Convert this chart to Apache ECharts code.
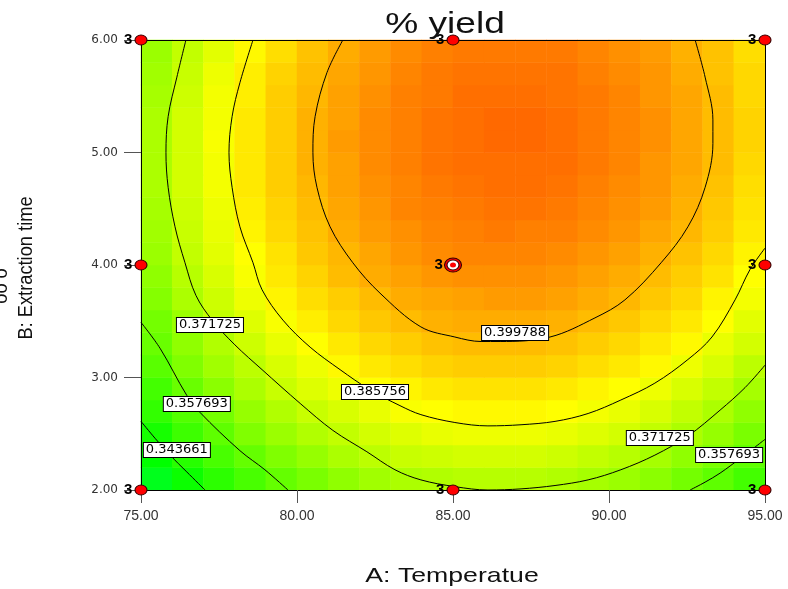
<!DOCTYPE html>
<html>
<head>
<meta charset="utf-8">
<title>% yield</title>
<script src="https://cdn.jsdelivr.net/npm/echarts@6/dist/echarts.min.js"></script>
<style>
html, body { margin: 0; padding: 0; background: #fff; }
#chart { width: 788px; height: 589px; }
</style>
</head>
<body>
<div id="chart"></div>
<script>
// colour map cells: centre of each cell, A = temperature, B = extraction time
const gridA = [75.5, 76.5, 77.5, 78.5, 79.5, 80.5, 81.5, 82.5, 83.5, 84.5, 85.5, 86.5, 87.5, 88.5, 89.5, 90.5, 91.5, 92.5, 93.5, 94.5];
const gridB = [2.1, 2.3, 2.5, 2.7, 2.9, 3.1, 3.3, 3.5, 3.7, 3.9, 4.1, 4.3, 4.5, 4.7, 4.9, 5.1, 5.3, 5.5, 5.7, 5.9];

// % yield, one row per B value (bottom row first)
const yieldGrid = [
  [0.335, 0.342, 0.348, 0.353, 0.358, 0.362, 0.366, 0.369, 0.371, 0.372, 0.373, 0.373, 0.373, 0.372, 0.370, 0.368, 0.365, 0.361, 0.357, 0.352],
  [0.340, 0.347, 0.353, 0.358, 0.363, 0.367, 0.371, 0.374, 0.376, 0.377, 0.378, 0.378, 0.378, 0.377, 0.375, 0.373, 0.370, 0.366, 0.362, 0.357],
  [0.344, 0.351, 0.357, 0.363, 0.368, 0.372, 0.375, 0.378, 0.380, 0.382, 0.383, 0.383, 0.383, 0.382, 0.380, 0.378, 0.375, 0.371, 0.367, 0.362],
  [0.349, 0.355, 0.361, 0.367, 0.372, 0.376, 0.379, 0.382, 0.385, 0.386, 0.387, 0.387, 0.387, 0.386, 0.384, 0.382, 0.379, 0.375, 0.371, 0.366],
  [0.352, 0.359, 0.365, 0.371, 0.376, 0.380, 0.383, 0.386, 0.388, 0.390, 0.391, 0.391, 0.391, 0.390, 0.388, 0.386, 0.383, 0.379, 0.375, 0.370],
  [0.356, 0.363, 0.369, 0.374, 0.379, 0.383, 0.387, 0.390, 0.392, 0.394, 0.395, 0.395, 0.395, 0.394, 0.392, 0.390, 0.387, 0.383, 0.379, 0.374],
  [0.359, 0.366, 0.372, 0.377, 0.382, 0.386, 0.390, 0.393, 0.395, 0.397, 0.398, 0.398, 0.398, 0.397, 0.395, 0.393, 0.390, 0.387, 0.382, 0.378],
  [0.361, 0.368, 0.375, 0.380, 0.385, 0.389, 0.393, 0.396, 0.398, 0.400, 0.401, 0.401, 0.401, 0.400, 0.398, 0.396, 0.393, 0.390, 0.386, 0.381],
  [0.364, 0.371, 0.377, 0.383, 0.388, 0.392, 0.395, 0.398, 0.401, 0.402, 0.403, 0.404, 0.404, 0.403, 0.401, 0.399, 0.396, 0.393, 0.388, 0.384],
  [0.366, 0.373, 0.379, 0.385, 0.390, 0.394, 0.398, 0.401, 0.403, 0.405, 0.406, 0.406, 0.406, 0.405, 0.403, 0.401, 0.398, 0.395, 0.391, 0.386],
  [0.368, 0.375, 0.381, 0.386, 0.391, 0.396, 0.399, 0.402, 0.405, 0.407, 0.408, 0.408, 0.408, 0.407, 0.405, 0.403, 0.400, 0.397, 0.393, 0.388],
  [0.369, 0.376, 0.382, 0.388, 0.393, 0.397, 0.401, 0.404, 0.406, 0.408, 0.409, 0.410, 0.409, 0.409, 0.407, 0.405, 0.402, 0.399, 0.395, 0.390],
  [0.370, 0.377, 0.383, 0.389, 0.394, 0.398, 0.402, 0.405, 0.408, 0.409, 0.410, 0.411, 0.411, 0.410, 0.408, 0.406, 0.404, 0.400, 0.396, 0.391],
  [0.371, 0.378, 0.384, 0.390, 0.395, 0.399, 0.403, 0.406, 0.408, 0.410, 0.411, 0.412, 0.412, 0.411, 0.409, 0.407, 0.405, 0.401, 0.397, 0.392],
  [0.371, 0.378, 0.384, 0.390, 0.395, 0.400, 0.403, 0.407, 0.409, 0.411, 0.412, 0.412, 0.412, 0.412, 0.410, 0.408, 0.405, 0.402, 0.398, 0.393],
  [0.371, 0.378, 0.385, 0.390, 0.395, 0.400, 0.404, 0.407, 0.409, 0.411, 0.412, 0.413, 0.413, 0.412, 0.410, 0.408, 0.406, 0.402, 0.398, 0.394],
  [0.371, 0.378, 0.384, 0.390, 0.395, 0.400, 0.403, 0.407, 0.409, 0.411, 0.412, 0.413, 0.413, 0.412, 0.410, 0.408, 0.406, 0.402, 0.398, 0.394],
  [0.370, 0.377, 0.384, 0.389, 0.395, 0.399, 0.403, 0.406, 0.409, 0.410, 0.412, 0.412, 0.412, 0.411, 0.410, 0.408, 0.405, 0.402, 0.398, 0.393],
  [0.369, 0.376, 0.383, 0.389, 0.394, 0.398, 0.402, 0.405, 0.408, 0.410, 0.411, 0.411, 0.411, 0.411, 0.409, 0.407, 0.405, 0.401, 0.397, 0.393],
  [0.368, 0.375, 0.381, 0.387, 0.392, 0.397, 0.401, 0.404, 0.407, 0.409, 0.410, 0.410, 0.410, 0.410, 0.408, 0.406, 0.404, 0.400, 0.397, 0.392]
];

// contour lines, [A, B] points
const contour399788 = [[81.47, 6.00], [80.96, 5.71], [80.58, 5.32], [80.51, 5.00], [80.64, 4.69], [81.06, 4.34], [81.79, 4.02], [82.66, 3.75], [83.97, 3.45], [85.06, 3.36], [85.90, 3.32], [86.51, 3.32], [88.11, 3.36], [89.55, 3.53], [90.51, 3.69], [91.67, 4.02], [92.53, 4.34], [93.08, 4.69], [93.33, 5.08], [93.33, 5.29], [93.08, 5.67], [92.76, 6.00]];
const contour385756 = [[78.59, 6.00], [78.17, 5.62], [77.92, 5.32], [77.82, 5.00], [77.92, 4.69], [78.17, 4.34], [78.59, 4.02], [78.88, 3.78], [79.55, 3.51], [80.42, 3.27], [81.38, 3.07], [82.34, 2.89], [83.30, 2.75], [83.97, 2.67], [85.06, 2.60], [86.12, 2.57], [87.18, 2.58], [88.27, 2.61], [89.33, 2.68], [90.38, 2.80], [91.47, 2.95], [92.53, 3.16], [93.30, 3.36], [94.04, 3.69], [94.52, 3.96], [95.00, 4.15]];
const contour371725 = [[76.44, 6.00], [76.15, 5.67], [75.87, 5.32], [75.80, 5.00], [75.87, 4.69], [76.09, 4.34], [76.41, 4.02], [76.76, 3.73], [77.28, 3.51], [78.01, 3.29], [78.88, 3.07], [80.10, 2.77], [81.15, 2.53], [82.24, 2.34], [83.14, 2.18], [83.97, 2.09], [85.06, 2.03], [86.12, 2.00], [87.18, 2.01], [88.27, 2.04], [89.33, 2.09], [90.38, 2.18], [91.47, 2.31], [92.53, 2.48], [93.56, 2.71], [94.36, 2.91], [95.00, 3.11]];
const contour357693a = [[75.00, 3.49], [75.61, 3.26], [76.47, 2.84], [76.89, 2.69], [78.17, 2.35], [78.97, 2.18], [79.71, 2.00]];
const contour357693b = [[92.60, 2.00], [93.08, 2.07], [93.56, 2.15], [94.20, 2.28], [95.00, 2.45]];
const contour343661 = [[75.00, 2.61], [75.45, 2.46], [75.93, 2.31], [76.47, 2.16], [77.05, 2.00]];

// where each contour value is written: [A, B, text]
const contourLabels = [
  [77.21, 3.467, '0.371725'],
  [76.79, 2.764, '0.357693'],
  [76.15, 2.356, '0.343661'],
  [82.50, 2.871, '0.385756'],
  [86.99, 3.396, '0.399788'],
  [91.63, 2.462, '0.371725'],
  [93.85, 2.311, '0.357693']
];

// design points [A, B, replicates]
const designPoints = [[75, 2, 3], [75, 4, 3], [75, 6, 3], [85, 2, 3], [85, 6, 3], [95, 2, 3], [95, 4, 3], [95, 6, 3]];
const centerPoint = [[85, 4, 3]];

const heatData = [];
yieldGrid.forEach((row, j) => {
  row.forEach((v, i) => heatData.push([i, j, v]));
});

const gridRect = { left: 141, top: 40, width: 624, height: 450 };
const labelFont = '"Liberation Sans", Arial, sans-serif';

function contourLine(pts) {
  return {
    type: 'line',
    xAxisIndex: 1,
    yAxisIndex: 1,
    data: pts,
    smooth: 0.35,
    symbol: 'none',
    silent: true,
    z: 4,
    lineStyle: { color: '#000', width: 1 }
  };
}

const chart = echarts.init(document.getElementById('chart'), null, { renderer: 'canvas' });
chart.setOption({
  animation: false,
  backgroundColor: '#fff',
  grid: [
    Object.assign({}, gridRect),
    Object.assign({}, gridRect)
  ],
  visualMap: {
    type: 'continuous',
    show: false,
    seriesIndex: 0,
    min: 0.294,
    max: 0.432,
    inRange: { color: ['#00ffff', '#00ff00', '#ffff00', '#ff0000'] }
  },
  xAxis: [
    { type: 'category', gridIndex: 0, data: gridA, show: false },
    {
      type: 'value', gridIndex: 1, min: 75, max: 95, interval: 5, z: 3,
      axisLine: { show: true, lineStyle: { color: '#000', width: 1 } },
      axisTick: { show: true, length: 13, lineStyle: { color: '#555' } },
      axisLabel: { margin: 19, fontSize: 14, color: '#333', fontFamily: labelFont, formatter: v => v.toFixed(2) },
      splitLine: { show: false }
    },
    {
      type: 'value', gridIndex: 1, min: 75, max: 95, position: 'top', z: 3,
      axisLine: { show: true, lineStyle: { color: '#000', width: 1 } },
      axisTick: { show: false }, axisLabel: { show: false }, splitLine: { show: false }
    }
  ],
  yAxis: [
    { type: 'category', gridIndex: 0, data: gridB, show: false },
    {
      type: 'value', gridIndex: 1, min: 2, max: 6, interval: 1, z: 3,
      axisLine: { show: true, lineStyle: { color: '#000', width: 1 } },
      axisTick: { show: true, length: 17, lineStyle: { color: '#555' } },
      axisLabel: { margin: 23, fontSize: 12, color: '#333', fontFamily: '"DejaVu Sans", sans-serif', formatter: v => v.toFixed(2) },
      splitLine: { show: false }
    },
    {
      type: 'value', gridIndex: 1, min: 2, max: 6, position: 'right', z: 3,
      axisLine: { show: true, lineStyle: { color: '#000', width: 1 } },
      axisTick: { show: false }, axisLabel: { show: false }, splitLine: { show: false }
    }
  ],
  graphic: [
    {
      type: 'text', x: 445, y: 25, scaleX: 1.28, z: 10,
      style: { text: '% yield', fontSize: 29, fontFamily: labelFont, fill: '#111', align: 'center', verticalAlign: 'middle' }
    },
    {
      type: 'text', x: 452, y: 576, scaleX: 1.27, z: 10,
      style: { text: 'A: Temperatue', fontSize: 21, fontFamily: labelFont, fill: '#111', align: 'center', verticalAlign: 'middle' }
    },
    {
      type: 'text', x: 26, y: 268, rotation: Math.PI / 2, scaleX: 0.87, z: 10,
      style: { text: 'B: Extraction time', fontSize: 21, fontFamily: labelFont, fill: '#111', align: 'center', verticalAlign: 'middle' }
    },
    {
      type: 'text', x: 1, y: 286, rotation: Math.PI / 2, scaleX: 0.87, z: 10,
      style: { text: 'oo o', fontSize: 21, fontFamily: labelFont, fill: '#111', align: 'center', verticalAlign: 'middle' }
    }
  ],
  series: [
    {
      type: 'heatmap',
      xAxisIndex: 0,
      yAxisIndex: 0,
      data: heatData,
      silent: true,
      progressive: 0,
      emphasis: { disabled: true },
      z: 1
    },
    contourLine(contour399788),
    contourLine(contour385756),
    contourLine(contour371725),
    contourLine(contour357693a),
    contourLine(contour357693b),
    contourLine(contour343661),
    {
      type: 'scatter',
      xAxisIndex: 1,
      yAxisIndex: 1,
      silent: true,
      symbolSize: 1,
      z: 5,
      itemStyle: { color: '#000', opacity: 1 },
      data: contourLabels.map(d => ({ value: [d[0], d[1]], name: d[2] })),
      label: {
        show: true,
        position: 'inside',
        formatter: p => p.name,
        fontSize: 13,
        fontFamily: '"DejaVu Sans", sans-serif',
        color: '#000',
        opacity: 1,
        backgroundColor: '#ffffff',
        borderColor: '#000',
        borderWidth: 1,
        padding: [1, 2, 0, 2]
      }
    },
    {
      type: 'scatter',
      xAxisIndex: 1,
      yAxisIndex: 1,
      silent: true,
      z: 6,
      data: designPoints,
      symbol: 'circle',
      symbolSize: [12, 10],
      itemStyle: { color: '#ff0000', borderColor: '#300', borderWidth: 1, opacity: 1 },
      label: {
        show: true, position: 'left', distance: 2,
        formatter: p => p.value[2],
        fontSize: 15, fontWeight: 'bold', color: '#000', fontFamily: labelFont
      }
    },
    {
      type: 'scatter',
      xAxisIndex: 1,
      yAxisIndex: 1,
      silent: true,
      z: 6,
      data: centerPoint,
      symbol: 'circle',
      symbolSize: [17, 14],
      itemStyle: { color: '#ff0000', borderColor: '#300', borderWidth: 1, opacity: 1 },
      label: {
        show: true, position: 'left', distance: 1,
        formatter: p => p.value[2],
        fontSize: 15, fontWeight: 'bold', color: '#000', fontFamily: labelFont
      }
    },
    {
      type: 'scatter',
      xAxisIndex: 1,
      yAxisIndex: 1,
      silent: true,
      z: 7,
      data: centerPoint,
      symbol: 'circle',
      symbolSize: [12, 10],
      itemStyle: { color: '#ffffff', borderColor: '#300', borderWidth: 1, opacity: 1 }
    },
    {
      type: 'scatter',
      xAxisIndex: 1,
      yAxisIndex: 1,
      silent: true,
      z: 8,
      data: centerPoint,
      symbol: 'circle',
      symbolSize: [6, 5],
      itemStyle: { color: '#ff0000', opacity: 1 }
    }
  ]
});
</script>
</body>
</html>
